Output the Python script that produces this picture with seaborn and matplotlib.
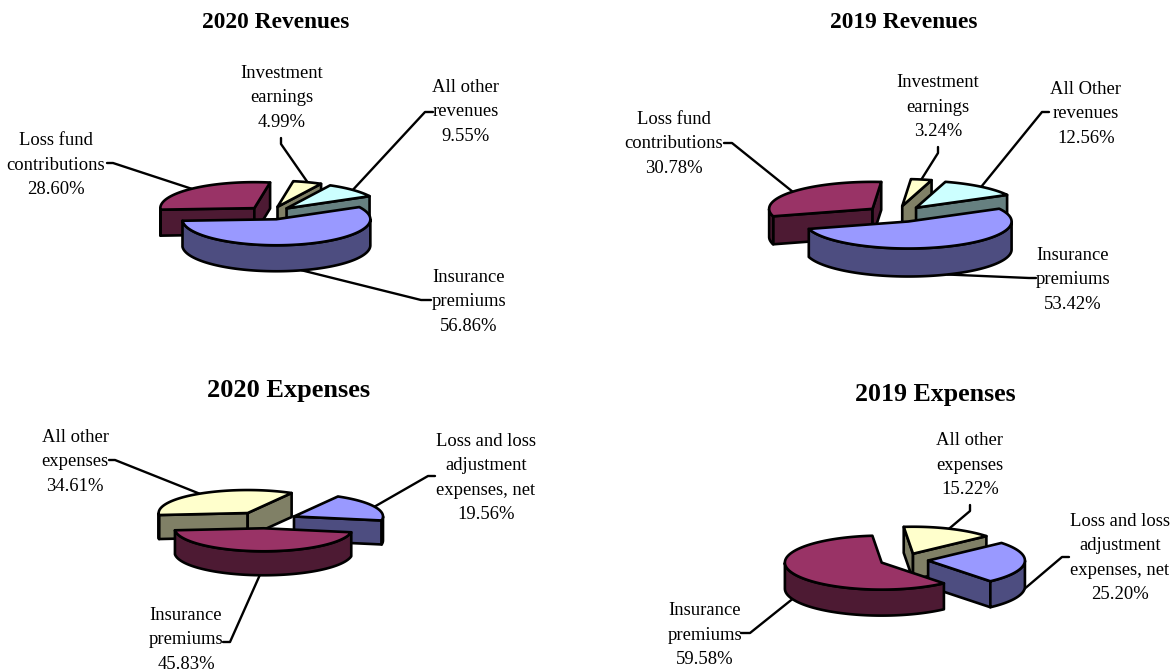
import numpy as np
import matplotlib
matplotlib.use("Agg")
import matplotlib.pyplot as plt
import seaborn as sns
from matplotlib.colors import to_rgb
from matplotlib.patches import Polygon

sns.set_theme(style="white")
plt.rcParams['font.family'] = ['Liberation Serif', 'DejaVu Serif']

MAROON = '#993366'
BLUE = '#9999FF'
YELLOW = '#FFFFCC'
CYAN = '#CCFFFF'

# slices run clockwise, as in the source charts
rev20_labels = ['Insurance\npremiums', 'Loss fund\ncontributions', 'Investment\nearnings', 'All other\nrevenues']
rev20_values = [56.86, 28.60, 4.99, 9.55]
rev19_labels = ['Insurance\npremiums', 'Loss fund\ncontributions', 'Investment\nearnings', 'All Other\nrevenues']
rev19_values = [53.42, 30.78, 3.24, 12.56]
exp20_labels = ['Insurance\npremiums', 'All other\nexpenses', 'Loss and loss\nadjustment\nexpenses, net']
exp20_values = [45.83, 34.61, 19.56]
exp19_labels = ['Insurance\npremiums', 'All other\nexpenses', 'Loss and loss\nadjustment\nexpenses, net']
exp19_values = [59.58, 15.22, 25.20]

rev_colors = sns.color_palette([BLUE, MAROON, YELLOW, CYAN])
exp_colors = sns.color_palette([MAROON, YELLOW, BLUE])

# layout only, in pixels of the 1175x671 picture
charts = [
    dict(title='2020 Revenues', title_xy=(276, 23), title_size=16.8,
         labels=rev20_labels, values=rev20_values, colors=rev_colors,
         center=(270, 213), rx=94, ry=26, depth=26, explode=0.25, start=28,
         label_xy=[(469, 302), (56, 165), (282, 98), (466, 112)],
         elbows=[[(431, 300), (421, 300)], [(107, 163), (113, 163)],
                 [(281, 138), (281, 144)], [(433, 112), (425, 112)]]),
    dict(title='2019 Revenues', title_xy=(904, 22), title_size=16.8,
         labels=rev19_labels, values=rev19_values, colors=rev_colors,
         center=(896.5, 214), rx=103.4, ry=27, depth=28, explode=0.3, start=28.3,
         label_xy=[(1073, 280), (674, 144), (938, 107), (1086, 114)],
         elbows=[[(1036, 278), (1029, 278)], [(724, 143), (732, 143)],
                 [(938, 147), (938, 153)], [(1049, 112), (1042, 112)]]),
    dict(title='2020 Expenses', title_xy=(289, 390), title_size=19,
         labels=exp20_labels, values=exp20_values, colors=exp_colors,
         center=(265, 520), rx=89, ry=23, depth=24, explode=0.36, start=-10,
         label_xy=[(186, 640), (75, 462), (486, 478)],
         elbows=[[(223, 642), (230, 642)], [(109, 460), (115, 460)],
                 [(435, 476), (428, 476)]]),
    dict(title='2019 Expenses', title_xy=(935, 394), title_size=18.6,
         labels=exp19_labels, values=exp19_values, colors=exp_colors,
         center=(904, 560), rx=96.8, ry=27, depth=26, explode=0.25, start=-50,
         label_xy=[(705, 635), (970, 465), (1120, 558)],
         elbows=[[(741, 633), (750, 633)], [(970, 505), (970, 511)],
                 [(1069, 557), (1062, 557)]]),
]


def face(ax, pts, color, z):
    ax.add_patch(Polygon(pts, closed=True, facecolor=color, edgecolor='black',
                         linewidth=1.9, joinstyle='round', zorder=z))


def draw_pie(ax, c):
    cx, cy = c['center']
    rx, ry, depth = c['rx'], c['ry'], c['depth']
    sweeps = np.array(c['values']) / sum(c['values']) * 360
    hi = c['start'] - np.concatenate([[0], np.cumsum(sweeps)[:-1]])
    lo = hi - sweeps
    mids = np.radians((hi + lo) / 2)

    # back slices first so the front ones cover them
    order = np.argsort(-np.sin(mids))
    for rank, i in enumerate(order):
        color = np.array(to_rgb(c['colors'][i]))
        side = color * 0.5
        z = 3 + rank
        ax_, ay_ = cx + c['explode'] * rx * np.cos(mids[i]), cy - c['explode'] * ry * np.sin(mids[i])
        t = np.radians(np.linspace(hi[i], lo[i], 160))
        xs = ax_ + rx * np.cos(t)
        ys = ay_ - ry * np.sin(t)

        # cut faces that look towards the viewer
        if np.cos(t[0]) < 0:
            face(ax, [(ax_, ay_), (xs[0], ys[0]), (xs[0], ys[0] + depth), (ax_, ay_ + depth)], side, z)
        if np.cos(t[-1]) > 0:
            face(ax, [(ax_, ay_), (xs[-1], ys[-1]), (xs[-1], ys[-1] + depth), (ax_, ay_ + depth)], side, z)

        # outer wall, lower half of the rim only
        low = np.sin(t) <= 0
        if low.any():
            wall = list(zip(xs[low], ys[low])) + list(zip(xs[low][::-1], ys[low][::-1] + depth))
            face(ax, wall, side, z)

        face(ax, [(ax_, ay_)] + list(zip(xs, ys)), color, z)

        # leader from the middle of the rim to the label
        px = ax_ + rx * np.cos(mids[i])
        py = ay_ - ry * np.sin(mids[i]) + (depth if np.sin(mids[i]) < 0 else 0)
        (ex, ey), (bx, by) = c['elbows'][i]
        ax.plot([px, bx, ex], [py, by, ey], color='black', lw=1.7, zorder=2,
                solid_joinstyle='round')

        lx, ly = c['label_xy'][i]
        ax.text(lx, ly, f"{c['labels'][i]}\n{c['values'][i]:.2f}%", ha='center', va='center',
                fontsize=13.4, color='black', linespacing=1.58, zorder=20)

    tx, ty = c['title_xy']
    ax.text(tx, ty, c['title'], ha='center', va='center', fontsize=c['title_size'],
            fontweight='bold', color='black')


fig = plt.figure(figsize=(11.75, 6.71), dpi=100)
ax = fig.add_axes([0, 0, 1, 1])
ax.set_xlim(0, 1175)
ax.set_ylim(671, 0)
ax.axis('off')

for chart in charts:
    draw_pie(ax, chart)

fig.savefig('out.png', dpi=100, facecolor='white')
plt.close(fig)
